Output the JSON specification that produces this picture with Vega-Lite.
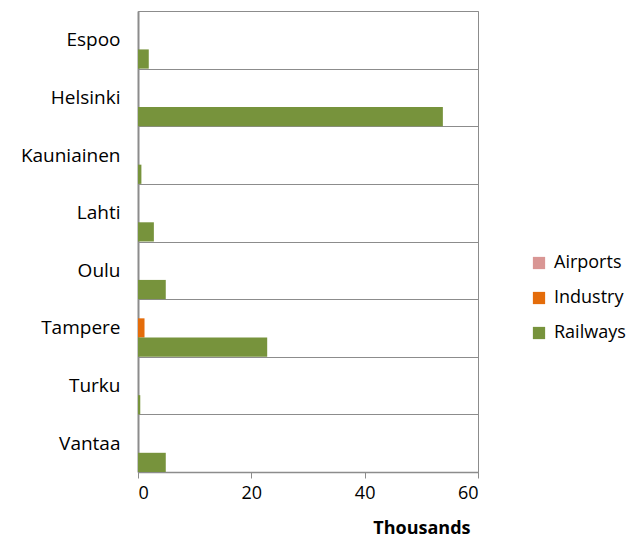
{
  "$schema": "https://vega.github.io/schema/vega-lite/v6.json",
  "width": 340,
  "height": 461,
  "padding": {"left": 20, "top": 2, "right": 5, "bottom": 5},
  "background": "white",
  "config": {
    "font": "Open Sans",
    "view": {"stroke": "#8c8c8c", "strokeWidth": 1}
  },
  "data": {
    "values": [
      {"city": "Espoo", "series": "Airports", "value": 0},
      {"city": "Espoo", "series": "Industry", "value": 0},
      {"city": "Espoo", "series": "Railways", "value": 1.9},
      {"city": "Helsinki", "series": "Airports", "value": 0},
      {"city": "Helsinki", "series": "Industry", "value": 0},
      {"city": "Helsinki", "series": "Railways", "value": 53.8},
      {"city": "Kauniainen", "series": "Airports", "value": 0},
      {"city": "Kauniainen", "series": "Industry", "value": 0},
      {"city": "Kauniainen", "series": "Railways", "value": 0.6},
      {"city": "Lahti", "series": "Airports", "value": 0},
      {"city": "Lahti", "series": "Industry", "value": 0},
      {"city": "Lahti", "series": "Railways", "value": 2.8},
      {"city": "Oulu", "series": "Airports", "value": 0},
      {"city": "Oulu", "series": "Industry", "value": 0},
      {"city": "Oulu", "series": "Railways", "value": 4.9},
      {"city": "Tampere", "series": "Airports", "value": 0},
      {"city": "Tampere", "series": "Industry", "value": 1.15},
      {"city": "Tampere", "series": "Railways", "value": 22.8},
      {"city": "Turku", "series": "Airports", "value": 0},
      {"city": "Turku", "series": "Industry", "value": 0},
      {"city": "Turku", "series": "Railways", "value": 0.4},
      {"city": "Vantaa", "series": "Airports", "value": 0},
      {"city": "Vantaa", "series": "Industry", "value": 0},
      {"city": "Vantaa", "series": "Railways", "value": 4.9}
    ]
  },
  "mark": {"type": "bar"},
  "encoding": {
    "y": {
      "field": "city",
      "type": "nominal",
      "sort": null,
      "scale": {"paddingInner": 0, "paddingOuter": 0},
      "axis": {
        "title": null,
        "grid": true,
        "gridColor": "#8c8c8c",
        "gridWidth": 1,
        "tickBand": "extent",
        "ticks": false,
        "domainColor": "#8c8c8c",
        "domainWidth": 2,
        "labelFontSize": 19,
        "labelColor": "#000000",
        "labelPadding": 18
      }
    },
    "yOffset": {
      "field": "series",
      "type": "nominal",
      "sort": ["Airports", "Industry", "Railways"],
      "scale": {"paddingInner": 0, "paddingOuter": 0}
    },
    "x": {
      "field": "value",
      "type": "quantitative",
      "scale": {"domain": [0, 60], "nice": false},
      "axis": {
        "title": "Thousands",
        "titleFontSize": 18,
        "titleFontWeight": "bold",
        "titleColor": "#000000",
        "titleAnchor": "end",
        "titleX": 332,
        "titleAlign": "right",
        "titlePadding": 17,
        "grid": false,
        "values": [0, 20, 40, 60],
        "tickColor": "#8c8c8c",
        "tickSize": 6,
        "domainColor": "#8c8c8c",
        "domainWidth": 1.5,
        "labelFontSize": 18,
        "labelColor": "#000000",
        "labelPadding": 6
      }
    },
    "color": {
      "field": "series",
      "type": "nominal",
      "scale": {
        "domain": ["Airports", "Industry", "Railways"],
        "range": ["#d99694", "#e46c0a", "#77933c"]
      },
      "legend": {
        "title": null,
        "orient": "none",
        "legendX": 392,
        "legendY": 243,
        "symbolType": "square",
        "symbolSize": 150,
        "symbolStrokeWidth": 0,
        "labelFontSize": 18,
        "labelColor": "#000000",
        "rowPadding": 17,
        "labelOffset": 6
      }
    }
  }
}
